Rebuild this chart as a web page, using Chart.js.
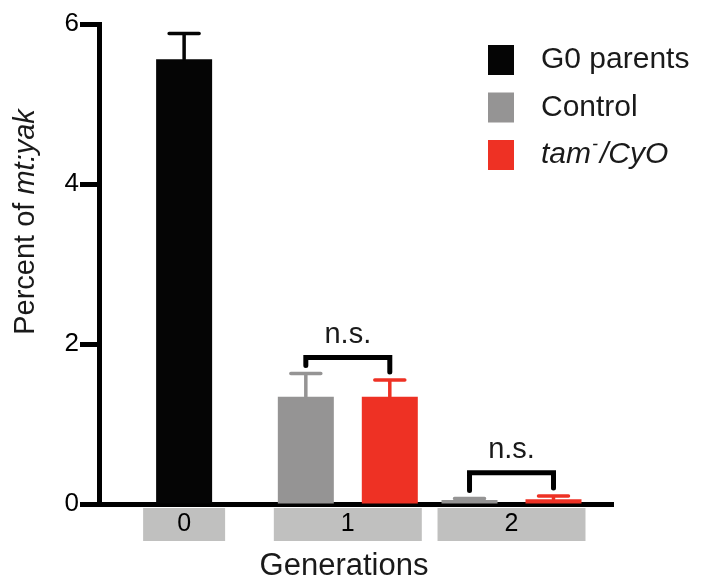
<!DOCTYPE html>
<html>
<head>
<meta charset="utf-8">
<script src="https://cdn.jsdelivr.net/npm/chart.js@4"></script>
<style>
  html, body { margin: 0; padding: 0; background: #fff; }
  #wrap { width: 701px; height: 583px; }
</style>
</head>
<body>
<div id="wrap"><canvas id="chart"></canvas></div>
<script>
// data
const generations = ['0', '1', '2'];
const seriesNames = ['G0 parents', 'Control', 'tam⁻/CyO'];
const g0Values = [5.56, null, null];
const g0Errors = [0.32, null, null];
const controlValues = [null, 1.34, 0.05];
const controlErrors = [null, 0.29, 0.02];
const tamValues = [null, 1.34, 0.06];
const tamErrors = [null, 0.21, 0.04];
const yTickStep = 2;
// significance brackets
const sigGenerations = [1, 2];
const sigLevels = [1.83, 0.39];
const sigLabels = ['n.s.', 'n.s.'];

const colors = ['#050505', '#959494', '#ee3124'];
const italicLabel = [false, false, true];
const FONT = "'Liberation Sans', Arial, Helvetica, sans-serif";
const TEXT = '#1a1a1a';

function errorTop(chart, di, i) {
    const ds = chart.data.datasets[di];
    return chart.scales.y.getPixelForValue(ds.data[i] + (ds.errors[i] || 0));
}

// grey boxes behind the generation labels
const labelBoxes = {
    id: 'labelBoxes',
    beforeDraw(chart) {
        const ctx = chart.ctx;
        const bottom = chart.chartArea.bottom;
        generations.forEach((g, i) => {
            let l = Infinity, r = -Infinity, n = 0;
            chart.data.datasets.forEach((ds, di) => {
                if (ds.data[i] == null) return;
                const el = chart.getDatasetMeta(di).data[i];
                l = Math.min(l, el.x - el.width / 2);
                r = Math.max(r, el.x + el.width / 2);
                n++;
            });
            const pad = n === 1 ? 13 : 4;
            ctx.save();
            ctx.fillStyle = '#c0c0bf';
            ctx.fillRect(l - pad, bottom + 4, r - l + pad * 2, 33);
            ctx.restore();
        });
    }
};

const errorBars = {
    id: 'errorBars',
    afterDatasetsDraw(chart) {
        const ctx = chart.ctx;
        chart.data.datasets.forEach((ds, di) => {
            const meta = chart.getDatasetMeta(di);
            ds.data.forEach((v, i) => {
                if (v == null) return;
                const el = meta.data[i];
                const top = errorTop(chart, di, i);
                ctx.save();
                ctx.strokeStyle = ds.backgroundColor;
                ctx.lineWidth = 3.5;
                ctx.lineCap = 'round';
                ctx.beginPath();
                ctx.moveTo(el.x, el.y);
                ctx.lineTo(el.x, top);
                ctx.moveTo(el.x - 15, top);
                ctx.lineTo(el.x + 15, top);
                ctx.stroke();
                ctx.restore();
            });
        });
    }
};

const sigBrackets = {
    id: 'sigBrackets',
    afterDatasetsDraw(chart) {
        const ctx = chart.ctx;
        sigGenerations.forEach((g, k) => {
            const pts = [];
            chart.data.datasets.forEach((ds, di) => {
                if (ds.data[g] == null) return;
                pts.push({ x: chart.getDatasetMeta(di).data[g].x, top: errorTop(chart, di, g) });
            });
            const a = pts[0], b = pts[pts.length - 1];
            const yl = chart.scales.y.getPixelForValue(sigLevels[k]);
            ctx.save();
            ctx.strokeStyle = '#000';
            ctx.lineWidth = 5;
            ctx.lineJoin = 'miter';
            ctx.lineCap = 'round';
            ctx.beginPath();
            ctx.moveTo(a.x, a.top - 8);
            ctx.lineTo(a.x, yl);
            ctx.lineTo(b.x, yl);
            ctx.lineTo(b.x, b.top - 8);
            ctx.stroke();
            ctx.fillStyle = TEXT;
            ctx.font = '29px ' + FONT;
            ctx.textAlign = 'center';
            ctx.textBaseline = 'alphabetic';
            ctx.fillText(sigLabels[k], (a.x + b.x) / 2, yl - 15);
            ctx.restore();
        });
    }
};

const legendBox = {
    id: 'legendBox',
    afterDraw(chart) {
        const ctx = chart.ctx;
        chart.data.datasets.forEach((ds, i) => {
            const cy = 60 + i * 47.5;
            ctx.save();
            ctx.fillStyle = ds.backgroundColor;
            ctx.fillRect(488, cy - 15, 26, 30);
            ctx.fillStyle = TEXT;
            ctx.textBaseline = 'middle';
            ctx.textAlign = 'left';
            const style = italicLabel[i] ? 'italic ' : '';
            const parts = ds.label.split('⁻');
            let x = 541;
            parts.forEach((p, pi) => {
                ctx.font = style + '30px ' + FONT;
                ctx.fillText(p, x, cy);
                x += ctx.measureText(p).width;
                if (pi < parts.length - 1) {
                    ctx.font = style + '18px ' + FONT;
                    ctx.fillText('-', x + 1, cy - 10);
                    x += ctx.measureText('-').width + 3;
                }
            });
            ctx.restore();
        });
    }
};

const axisTitles = {
    id: 'axisTitles',
    afterDraw(chart) {
        const ctx = chart.ctx;
        ctx.save();
        ctx.fillStyle = TEXT;
        ctx.textBaseline = 'middle';
        ctx.textAlign = 'center';
        ctx.font = '31px ' + FONT;
        ctx.fillText('Generations', 344, 566);

        // y title, mixed roman / italic
        const a = 'Percent of ', b = 'mt:yak';
        ctx.font = '29px ' + FONT;
        const wa = ctx.measureText(a).width;
        ctx.font = 'italic 29px ' + FONT;
        const wb = ctx.measureText(b).width;
        ctx.translate(26, 222);
        ctx.rotate(-Math.PI / 2);
        ctx.textAlign = 'left';
        ctx.font = '29px ' + FONT;
        ctx.fillText(a, -(wa + wb) / 2, 0);
        ctx.font = 'italic 29px ' + FONT;
        ctx.fillText(b, -(wa + wb) / 2 + wa, 0);
        ctx.restore();
    }
};

new Chart(document.getElementById('chart'), {
    type: 'bar',
    data: {
        labels: generations,
        datasets: [
            { label: seriesNames[0], data: g0Values, errors: g0Errors, backgroundColor: colors[0] },
            { label: seriesNames[1], data: controlValues, errors: controlErrors, backgroundColor: colors[1] },
            { label: seriesNames[2], data: tamValues, errors: tamErrors, backgroundColor: colors[2] }
        ]
    },
    options: {
        responsive: true,
        maintainAspectRatio: false,
        animation: false,
        layout: { padding: { top: 24, right: 88, bottom: 0, left: 0 } },
        datasets: {
            bar: { skipNull: true, categoryPercentage: 1.026, barPercentage: 0.667, maxBarThickness: 56 }
        },
        plugins: {
            legend: { display: false },
            tooltip: { enabled: false }
        },
        scales: {
            x: {
                type: 'linear',
                min: -0.52,
                max: 2.62,
                offset: false,
                afterFit: s => { s.height = 79; },
                grid: { display: false, drawTicks: false },
                border: { display: true, width: 5, color: '#000' },
                ticks: {
                    stepSize: 1,
                    includeBounds: false,
                    padding: 5,
                    color: '#000',
                    font: { family: FONT, size: 25 }
                }
            },
            y: {
                min: 0,
                max: 6,
                afterFit: s => { s.width = 99; },
                grid: { drawOnChartArea: false, tickLength: 19, tickWidth: 5, color: '#000' },
                border: { width: 5, color: '#000' },
                ticks: {
                    stepSize: yTickStep,
                    padding: 1,
                    color: '#000',
                    font: { family: FONT, size: 26 }
                }
            }
        }
    },
    plugins: [labelBoxes, errorBars, sigBrackets, legendBox, axisTitles]
});
</script>
</body>
</html>
